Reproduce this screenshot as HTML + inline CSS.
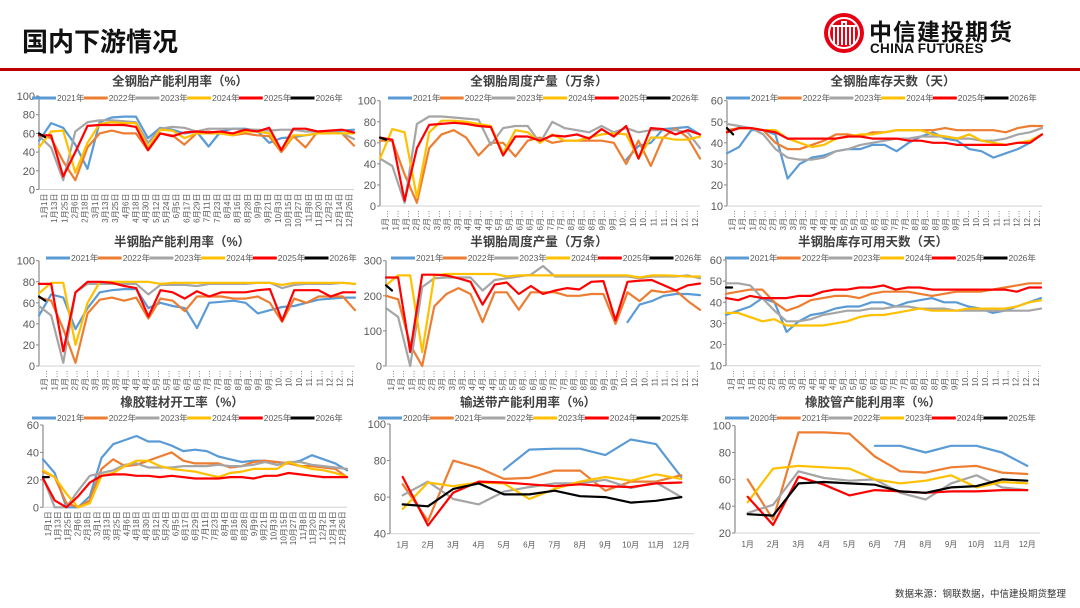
<!DOCTYPE html>
<html><head><meta charset="utf-8">
<style>
html,body{margin:0;padding:0;background:#fff;}
#root{position:relative;width:1080px;height:608px;overflow:hidden;font-family:"Liberation Sans","Noto Sans CJK SC",sans-serif;}
#hdr-title{position:absolute;left:22px;top:22px;font-size:26px;font-weight:bold;color:#111;font-family:"Liberation Sans","Noto Sans CJK SC",sans-serif;letter-spacing:0px;}
#redline{position:absolute;left:0;top:68px;width:1080px;height:3px;background:#C00000;}
#logo-cn{position:absolute;left:869px;top:13px;font-size:23px;font-weight:bold;color:#111;font-family:"Noto Sans CJK SC",sans-serif;letter-spacing:1px;}
#logo-en{position:absolute;left:870px;top:41px;font-size:13.5px;font-weight:bold;color:#111;letter-spacing:0.3px;}
#source{position:absolute;right:14px;top:586px;font-size:9.5px;color:#333;font-family:"Liberation Sans","Noto Sans CJK SC",sans-serif;}
svg{position:absolute;left:0;top:0;}
</style></head>
<body>
<div id="root">
<div id="hdr-title">国内下游情况</div>
<div id="redline"></div>
<svg width="1080" height="80" style="left:0;top:0">
 <circle cx="844" cy="33" r="20" fill="#E60012"/>
 <circle cx="844" cy="33" r="15" fill="none" stroke="#fff" stroke-width="2"/>
 <path d="M834 45 V26 h4 V45 M842 45 V22 h4 V45 M850 45 V26 h4 V45" fill="none" stroke="#fff" stroke-width="2"/>
 <path d="M832 26 h24" stroke="#fff" stroke-width="2"/>
</svg>
<div id="logo-cn">中信建投期货</div>
<div id="logo-en">CHINA FUTURES</div>
<svg id="charts" width="1080" height="608"></svg>
<div id="source">数据来源：钢联数据，中信建投期货整理</div>
</div>
<script>
// ---- shared categories ----
const weekLabels = ["1月1日","1月13日","1月25日","2月6日","2月18日","3月1日","3月13日","3月25日","4月6日","4月18日","4月30日","5月12日","5月24日","6月5日","6月17日","6月29日","7月11日","7月23日","8月4日","8月16日","8月28日","9月9日","9月21日","10月3日","10月15日","10月27日","11月8日","11月20日","12月2日","12月14日","12月26日"];
const monthLabels = ["1月","2月","3月","4月","5月","6月","7月","8月","9月","10月","11月","12月"];
const yearsA = ["2021年","2022年","2023年","2024年","2025年","2026年"];
const yearsB = ["2020年","2021年","2022年","2023年","2024年","2025年"];
const N = null;

// ---- chart 1: 全钢胎产能利用率 ----
const c1_2021 = [52,71,66,48,22,72,77,78,78,55,66,64,60,62,46,62,65,65,63,50,55,56,58,60,62,63,64];
const c1_2022 = [58,55,30,10,45,60,63,60,60,42,60,58,48,60,62,60,58,60,58,57,40,57,45,62,62,60,47];
const c1_2023 = [57,45,10,62,72,74,74,73,72,50,65,67,66,62,65,65,65,64,64,63,64,64,62,62,62,60,54];
const c1_2024 = [45,62,63,18,50,70,72,71,71,45,64,63,55,60,60,60,58,62,62,60,42,58,58,60,60,60,60];
const c1_2025 = [58,58,14,40,68,69,69,69,67,42,60,57,61,62,61,62,60,64,62,66,42,65,65,62,63,64,61];
const c1_2026 = [60,56];

// ---- chart 2: 全钢胎周度产量 ----
const c2_2021 = [N,N,N,N,N,N,N,N,N,N,N,N,N,N,N,N,N,N,N,N,44,57,60,73,74,75,68];
const c2_2022 = [62,62,30,3,55,68,72,65,48,60,60,47,62,65,60,62,62,62,62,60,40,62,38,65,74,65,45];
const c2_2023 = [45,38,3,78,85,85,84,83,82,58,74,76,76,60,80,74,72,70,76,70,74,70,72,72,72,70,55];
const c2_2024 = [45,73,70,8,70,81,81,80,78,76,50,72,70,60,68,62,62,65,68,69,68,45,65,65,63,63,66];
const c2_2025 = [65,63,5,55,77,78,79,78,76,75,48,66,66,62,67,66,68,64,73,66,76,45,74,73,68,72,68];
const c2_2026 = [65,63];

// ---- chart 3: 全钢胎库存天数 ----
const c3_2021 = [35,38,46,46,44,23,30,33,34,36,37,37,39,39,36,40,43,45,42,41,37,36,33,35,37,40,44];
const c3_2022 = [46,47,47,46,40,37,37,39,41,44,44,43,45,45,46,46,46,46,47,46,46,46,46,45,47,48,48];
const c3_2023 = [49,48,47,44,37,33,32,32,33,36,37,39,40,41,42,42,43,43,43,42,42,41,41,42,44,45,47];
const c3_2024 = [45,47,47,46,46,42,40,38,39,42,43,44,44,45,46,46,46,44,43,42,44,41,40,39,40,41,44];
const c3_2025 = [45,47,47,46,45,42,42,42,42,42,43,43,42,42,42,41,41,40,40,39,39,39,39,39,40,40,44];
const c3_2026 = [47,44];

// ---- chart 4: 半钢胎产能利用率 ----
const c4_2021 = [48,68,65,35,55,70,72,73,73,55,60,57,55,36,60,61,62,60,50,53,56,57,60,63,64,65,65];
const c4_2022 = [65,62,35,3,50,63,65,62,65,45,64,62,52,66,66,66,64,64,66,60,42,64,60,66,66,66,53];
const c4_2023 = [57,48,3,70,78,78,78,78,78,68,77,77,77,76,78,78,78,78,79,79,74,77,78,78,78,79,78];
const c4_2024 = [69,79,79,20,60,80,80,80,80,80,78,79,79,79,79,79,79,79,79,79,77,79,79,79,79,79,78];
const c4_2025 = [78,78,14,70,80,80,79,76,74,47,72,70,64,71,66,70,70,70,72,73,43,72,72,72,66,70,70];
const c4_2026 = [66,62];

// ---- chart 5: 半钢胎周度产量 ----
const c5_2021 = [N,N,N,N,N,N,N,N,N,N,N,N,N,N,N,N,N,N,N,N,125,175,185,200,205,205,202];
const c5_2022 = [200,190,60,0,170,205,222,205,125,210,210,160,210,210,210,200,200,205,205,120,210,185,215,210,215,185,160];
const c5_2023 = [165,140,0,225,250,252,252,252,215,245,250,255,260,285,255,255,255,255,255,255,255,250,255,255,255,258,250];
const c5_2024 = [230,258,258,40,258,262,262,262,262,262,255,258,258,258,258,258,258,258,258,258,258,252,258,258,257,255,255];
const c5_2025 = [252,252,40,260,260,258,250,240,175,232,238,205,228,205,215,222,218,240,242,130,240,243,245,230,215,230,235];
const c5_2026 = [230,215];

// ---- chart 6: 半钢胎库存可用天数 ----
const c6_2021 = [34,36,38,42,40,26,31,34,35,37,38,38,40,40,38,40,41,42,40,40,38,37,35,36,38,40,42];
const c6_2022 = [44,45,46,46,40,36,38,41,42,43,43,42,44,45,45,45,44,43,44,45,45,45,46,47,48,49,49];
const c6_2023 = [49,49,48,42,36,31,31,32,34,35,36,36,37,37,38,38,37,37,37,36,36,36,36,36,36,36,37];
const c6_2024 = [35,35,33,31,32,29,29,29,29,30,31,33,34,34,35,36,37,36,36,36,37,37,37,37,38,40,41];
const c6_2025 = [42,41,43,42,42,42,43,43,45,46,46,47,47,48,46,47,47,46,46,46,46,46,46,46,45,47,47];
const c6_2026 = [47,47];

// ---- chart 7: 橡胶鞋材开工率 ----
const c7_2021 = [35,25,0,0,8,36,46,49,52,48,48,45,41,42,41,37,35,33,34,34,31,32,34,38,35,32,27];
const c7_2022 = [26,22,3,0,5,28,35,30,31,34,37,40,34,32,32,32,29,30,33,34,33,32,30,30,29,28,22];
const c7_2023 = [22,0,0,12,23,25,27,31,32,29,29,29,30,30,30,31,30,30,31,33,31,33,33,31,30,29,28];
const c7_2024 = [27,22,10,0,3,23,25,30,34,34,30,28,27,26,24,22,25,26,28,28,28,33,30,28,27,25,22];
const c7_2025 = [21,5,0,8,18,23,24,24,23,23,22,23,22,21,21,21,22,22,21,23,23,25,24,23,22,22,22];
const c7_2026 = [22,22];

// ---- chart 8: 输送带产能利用率 ----
const c8_2020 = [N,N,N,N,75,86,86.5,86.5,83,91.5,89,71];
const c8_2021 = [67,47,80,76,70,70.5,74.5,74.5,63.5,68.5,68.5,72];
const c8_2022 = [61,68.5,59,56,63,65.5,67.5,67.5,69.5,65,68,60];
const c8_2023 = [53.5,68,66,68,67.5,59,64.5,68.5,71,69,72.5,70];
const c8_2024 = [71,44.5,62.5,68.5,68,67,66,67,66,65.5,67.5,68];
const c8_2025 = [56,55,64.5,67.5,61.5,61.5,63.5,60.5,60,57,58,60];

// ---- chart 9: 橡胶管产能利用率 ----
const c9_2020 = [N,N,N,N,N,85,85,80,85,85,80,70];
const c9_2021 = [60,30,95,95,94,77,66,65,69,70,65,64];
const c9_2022 = [35,41,66,61,59,60,50,45,57,63,54,52];
const c9_2023 = [43,68,70,69,68,60,57,59,63,54,58,57];
const c9_2024 = [47,26,62,56,48,52,51,50,51,51,52,52];
const c9_2025 = [34,33,57,58,57,56,51,50,54,55,60,59];

const colors = ["#5B9BD5","#ED7D31","#A5A5A5","#FFC000","#FF0000","#000000"];
const NS = "http://www.w3.org/2000/svg";
const svg = document.getElementById('charts');
function mk(tag, attrs, parent){
  const e = document.createElementNS(NS, tag);
  for (const k in attrs) e.setAttribute(k, attrs[k]);
  (parent||svg).appendChild(e);
  return e;
}

const charts = [
 {key:"c1",title:"全钢胎产能利用率（%）",tx:180,ty:81,lx:32,ly:98,L:39,R:354,T:96,B:189.5,min:0,max:100,step:20,mode:"week",full:true,names:yearsA,
  s:[c1_2021,c1_2022,c1_2023,c1_2024,c1_2025,c1_2026]},
 {key:"c2",title:"全钢胎周度产量（万条）",tx:539,ty:81,lx:388,ly:98,L:380,R:700,T:100.7,B:206,min:0,max:100,step:20,mode:"week",full:false,names:yearsA,
  s:[c2_2021,c2_2022,c2_2023,c2_2024,c2_2025,c2_2026]},
 {key:"c3",title:"全钢胎库存天数（天）",tx:893,ty:81,lx:726,ly:98,L:727,R:1042,T:100.7,B:206,min:10,max:60,step:10,mode:"week",full:false,names:yearsA,
  s:[c3_2021,c3_2022,c3_2023,c3_2024,c3_2025,c3_2026]},
 {key:"c4",title:"半钢胎产能利用率（%）",tx:182,ty:241.5,lx:46,ly:258,L:39,R:355,T:260.7,B:366,min:0,max:100,step:20,mode:"week",full:false,names:yearsA,
  s:[c4_2021,c4_2022,c4_2023,c4_2024,c4_2025,c4_2026]},
 {key:"c5",title:"半钢胎周度产量（万条）",tx:539,ty:241.5,lx:391,ly:258,L:386,R:700,T:260.7,B:366,min:0,max:300,step:100,mode:"week",full:false,names:yearsA,
  s:[c5_2021,c5_2022,c5_2023,c5_2024,c5_2025,c5_2026]},
 {key:"c6",title:"半钢胎库存可用天数（天）",tx:873,ty:241.5,lx:725,ly:258,L:726,R:1041,T:260,B:365.7,min:10,max:60,step:10,mode:"week",full:false,names:yearsA,
  s:[c6_2021,c6_2022,c6_2023,c6_2024,c6_2025,c6_2026]},
 {key:"c7",title:"橡胶鞋材开工率（%）",tx:182,ty:402,lx:32,ly:418,L:43,R:347,T:425,B:507.3,min:0,max:60,step:20,mode:"week",full:true,names:yearsA,
  s:[c7_2021,c7_2022,c7_2023,c7_2024,c7_2025,c7_2026]},
 {key:"c8",title:"输送带产能利用率（%）",tx:528,ty:402,lx:378,ly:418,L:390,R:694,T:424,B:533.7,min:40,max:100,step:20,mode:"month",names:yearsB,
  s:[c8_2020,c8_2021,c8_2022,c8_2023,c8_2024,c8_2025]},
 {key:"c9",title:"橡胶管产能利用率（%）",tx:873,ty:402,lx:725,ly:418,L:735,R:1040,T:425.7,B:533,min:20,max:100,step:20,mode:"month",names:yearsB,
  s:[c9_2020,c9_2021,c9_2022,c9_2023,c9_2024,c9_2025]}
];

charts.forEach(c=>{
  const g = mk('g',{});
  
  
  const yS = v => c.B - (v - c.min)/(c.max - c.min)*(c.B - c.T);
  const n = 27;
  const xW = i => c.L + i/(n-1)*(c.R - c.L);
  const xM = i => c.L + (i+0.5)*(c.R - c.L)/12;
  const t = mk('text',{x:c.tx,y:c.ty+4.5,'text-anchor':'middle','font-size':12.5,'font-weight':'bold',fill:'#404040','font-family':'"Liberation Sans","Noto Sans CJK SC",sans-serif'},g);
  t.textContent = c.title;
  
  
  for (let v=c.min; v<=c.max+1e-9; v+=c.step){
    const lb = mk('text',{x:c.L-4,y:yS(v)+4,'text-anchor':'end','font-size':11,fill:'#595959'},g);
    lb.textContent = v;
    
    
    mk('line',{x1:c.L-3,x2:c.L,y1:yS(v),y2:yS(v),stroke:'#888','stroke-width':1},g);
  }
  const ya = mk('line',{x1:c.L,x2:c.L,y1:c.T,y2:c.B,stroke:'#888','stroke-width':1.2},g);
  
  
  const xa = mk('line',{x1:c.L,x2:c.R,y1:c.B,y2:c.B,stroke:'#d0d0d0','stroke-width':1},g);
  
  
  if (c.mode==='week'){
    const m = weekLabels.length;
    weekLabels.forEach((lab,k)=>{
      const x = c.L + (k+0.5)*(c.R-c.L)/m;
      const txt = c.full ? lab : lab.slice(0,2)+'…';
      const e = mk('text',{x:0,y:0,transform:`translate(${x+3},${c.B+4}) rotate(-90)`,'text-anchor':'end','font-size':8,fill:'#595959'},g);
      e.textContent = txt;
      
      
    });
  } else {
    monthLabels.forEach((lab,k)=>{
      const e = mk('text',{x:xM(k),y:c.B+14,'text-anchor':'middle','font-size':8,fill:'#595959'},g);
      e.textContent = lab;
      
      
    });
  }
  c.s.forEach((arr,si)=>{
    let d = '', pen = false;
    arr.forEach((v,i)=>{
      if (v===null){ pen=false; return; }
      let x;
      if (c.mode==='month') x = xM(i);
      else if (si===5) x = xW(i*0.5);
      else x = xW(i);
      d += (pen?'L':'M') + x.toFixed(1) + ' ' + yS(v).toFixed(1) + ' ';
      pen = true;
    });
    const p = mk('path',{d:d,fill:'none',stroke:colors[si],'stroke-width':2.2,'stroke-linejoin':'round','stroke-linecap':'round'},g);
    
    
  });
  c.names.forEach((nm,k)=>{
    const x0 = c.lx + k*51.7;
    const lg = mk('g',{},g);
    
    
    mk('line',{x1:x0,x2:x0+24,y1:c.ly,y2:c.ly,stroke:colors[k],'stroke-width':3},lg);
    const tt = mk('text',{x:x0+25,y:c.ly+3,'font-size':8.5,fill:'#595959'},lg);
    tt.textContent = nm;
  });
});
</script>
</body></html>
